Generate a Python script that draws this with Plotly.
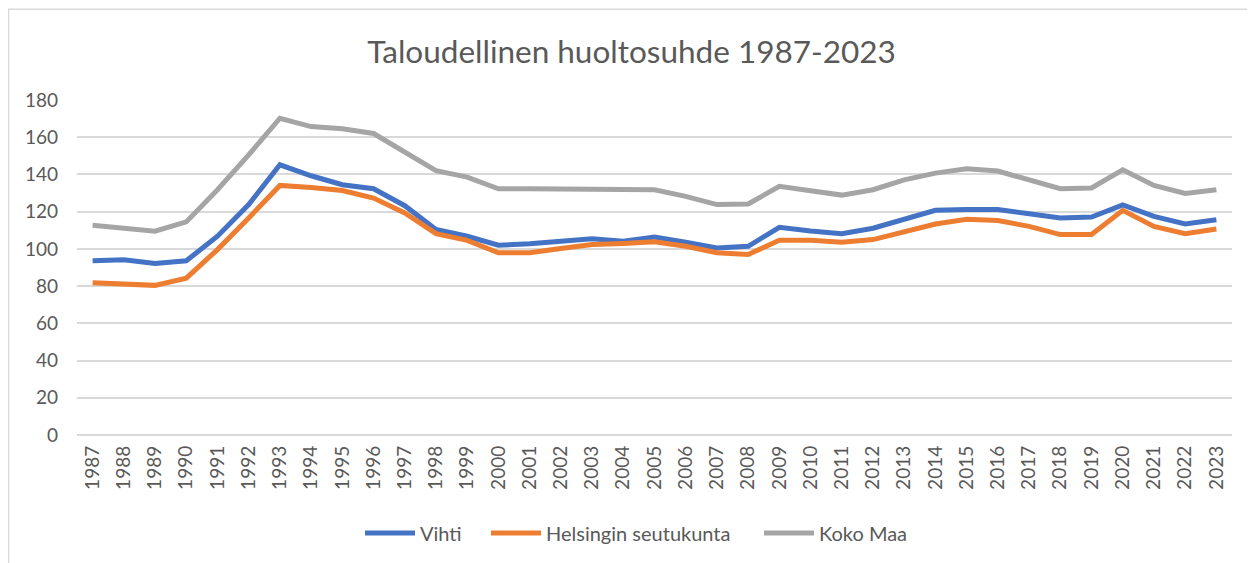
import plotly.graph_objects as go

years = [str(y) for y in range(1987, 2024)]

vihti = [93.6, 94.1, 92.1, 93.6, 106.8, 123.8, 145.2, 139.3, 134.5, 132.3, 123.2, 110.4, 106.8,
         102.0, 102.7, 104.1, 105.5, 104.1, 106.4, 103.6, 100.5, 101.4, 111.6, 109.6, 108.2,
         111.1, 116.1, 120.7, 121.1, 121.1, 118.9, 116.6, 117.1, 123.6, 117.5, 113.4, 115.7]

helsinki = [81.8, 81.2, 80.4, 84.3, 99.6, 116.6, 134.1, 133.0, 131.4, 127.3, 119.3, 108.2, 104.6,
            97.9, 97.9, 100.2, 102.3, 102.9, 103.8, 101.4, 97.9, 97.0, 104.6, 104.6, 103.6,
            105.0, 109.5, 113.4, 115.9, 115.2, 112.1, 107.7, 107.7, 120.7, 112.1, 108.2, 110.7]

koko_maa = [112.7, 110.9, 109.5, 114.5, 131.8, 150.5, 170.2, 165.7, 164.5, 162.0, 152.3, 142.0, 138.6,
            132.3, 132.3, 132.3, 132.3, 131.8, 131.8, 128.2, 123.8, 124.1, 133.6, 131.2, 128.9,
            131.8, 137.1, 140.7, 143.0, 141.8, 137.1, 132.3, 132.7, 142.5, 134.1, 129.8, 131.8]

series_names = ["Vihti", "Helsingin seutukunta", "Koko Maa"]
series_colors = ["#4472C4", "#ED7D31", "#A5A5A5"]
y_ticks = list(range(0, 181, 20))

FONT = "Lato"
TEXT = "#595959"

# page body has an 8px margin; work in figure pixels
OFF = 8
W, H = 1255 - OFF, 563 - OFF
L, R, T, B = 77 - OFF, 1232 - OFF, 100 - OFF, 436 - OFF
pw, ph = R - L, B - T

def px_x(p):
    return (p - L) / pw

def px_y(p):
    return (B - p) / ph

legend_ids = ["legend", "legend2", "legend3"]
legend_left = [360, 486, 759]  # screen px of each legend item's left edge

fig = go.Figure()
for name, vals, col, lid in zip(series_names, [vihti, helsinki, koko_maa], series_colors, legend_ids):
    fig.add_trace(go.Scatter(x=years, y=vals, name=name, mode="lines", legend=lid,
                             line=dict(color=col, width=5)))

legends = {}
for lid, lx in zip(legend_ids, legend_left):
    legends[lid] = dict(orientation="h", x=px_x(lx - OFF), xanchor="left",
                        y=px_y(533 - OFF), yanchor="middle",
                        font=dict(family=FONT, size=20, color=TEXT), itemwidth=50,
                        bgcolor="rgba(0,0,0,0)")

fig.update_layout(
    width=W, height=H,
    margin=dict(l=L, r=W - R, t=T, b=H - B),
    paper_bgcolor="white", plot_bgcolor="white",
    font=dict(family=FONT, color=TEXT),
    title=dict(text="Taloudellinen huoltosuhde 1987-2023", x=0.5, xanchor="center",
               y=1 - (52 - OFF) / H, yanchor="middle",
               font=dict(family=FONT, size=31.5, color=TEXT)),
    xaxis=dict(type="category", tickangle=-90, showgrid=False, showline=False,
               ticks="", tickfont=dict(family=FONT, size=19, color=TEXT),
               ticklabelstandoff=6,
               range=[-0.5, len(years) - 0.5], fixedrange=True),
    yaxis=dict(range=[0, 180], tickvals=y_ticks, showgrid=True, gridcolor="#D9D9D9",
               gridwidth=1.5, zeroline=True, zerolinecolor="#D9D9D9", zerolinewidth=1.5,
               ticks="", tickfont=dict(family=FONT, size=19, color=TEXT), ticklabelstandoff=18),
    showlegend=True,
    shapes=[dict(type="rect", xref="paper", yref="paper",
                 x0=px_x(0.5), x1=px_x(W + 20), y0=px_y(H + 20), y1=px_y(1),
                 line=dict(color="#D9D9D9", width=1.5), fillcolor="rgba(0,0,0,0)", layer="below")],
    **legends,
)

fig.write_html("out.html")
